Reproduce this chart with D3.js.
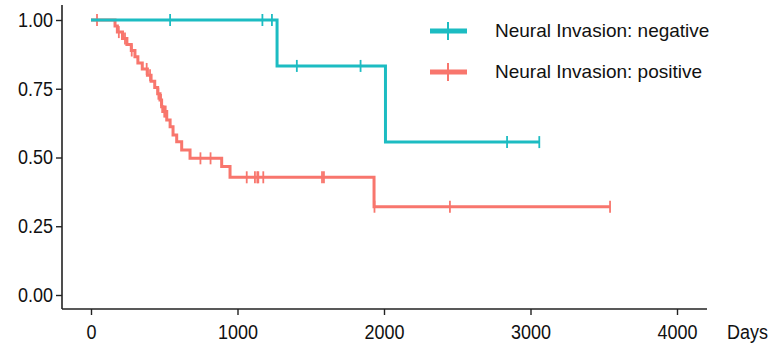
<!DOCTYPE html>
<html>
<head>
<meta charset="utf-8">
<script src="https://cdn.jsdelivr.net/npm/d3@7"></script>
<style>
    body { margin: 0; background: #fff; }
    text { font-family: "Liberation Sans", Arial, sans-serif; }
</style>
</head>
<body>
<svg id="chart" width="773" height="345"></svg>
<script>
// Kaplan-Meier curves
const groups = ["Neural Invasion: negative", "Neural Invasion: positive"]
const colors = ["#1cbcc2", "#f8766d"]

// negative group: event days and survival after each event
const negEventDays = [1270, 2010]
const negSurvival = [0.833, 0.556]
const negCensorDays = [540, 1170, 1235, 1405, 1840, 2840, 3060]
const negLastDay = 3060

// positive group
const posEventDays = [164, 180, 215, 245, 275, 300, 320, 350, 385, 410, 435, 455, 471,
    482, 490, 517, 540, 560, 585, 619, 676, 892, 949, 1932]
const posSurvival = [0.978, 0.956, 0.933, 0.911, 0.889, 0.866, 0.844, 0.822, 0.799, 0.777, 0.755, 0.732, 0.709,
    0.685, 0.667, 0.636, 0.612, 0.582, 0.557, 0.527, 0.497, 0.467, 0.428, 0.321]
const posCensorDays = [41, 190, 232, 278, 380, 403, 460, 478, 500, 510, 747, 816,
    1063, 1119, 1135, 1142, 1176, 1577, 1590, 1935, 2450, 3543]
const posLastDay = 3543

const xTicks = [0, 1000, 2000, 3000, 4000]
const yTicks = [0, 0.25, 0.5, 0.75, 1]

const svg = d3.select("#chart")

const x = d3.scaleLinear().domain([0, 4000]).range([91, 677])
const y = d3.scaleLinear().domain([0, 1]).range([295, 20])
const stretch = 1.12 // labels in the picture look a bit taller than normal

// build step path points from events
function stepPoints(days, surv, lastDay) {
    const pts = [[0, 1]]
    let s = 1
    days.forEach((d, i) => {
        pts.push([d, s])
        s = surv[i]
        pts.push([d, s])
    })
    pts.push([lastDay, s])
    return pts
}
function survAt(days, surv, t) {
    let s = 1
    days.forEach((d, i) => { if (d <= t) s = surv[i] })
    return s
}

const curves = [
    { pts: stepPoints(negEventDays, negSurvival, negLastDay), censor: negCensorDays.map(t => [t, survAt(negEventDays, negSurvival, t)]) },
    { pts: stepPoints(posEventDays, posSurvival, posLastDay), censor: posCensorDays.map(t => [t, survAt(posEventDays, posSurvival, t)]) },
]

const line = d3.line().x(d => x(d[0])).y(d => y(d[1]))

// draw positive first so negative sits on top at 1.0
;[1, 0].forEach(i => {
    const c = curves[i]
    const g = svg.append("g")
    g.append("path")
        .attr("d", line(c.pts))
        .attr("fill", "none")
        .attr("stroke", colors[i])
        .attr("stroke-width", 3)
    g.selectAll("line.cens")
        .data(c.censor)
        .enter()
        .append("line")
        .attr("class", "cens")
        .attr("x1", d => x(d[0]))
        .attr("x2", d => x(d[0]))
        .attr("y1", d => y(d[1]) - 6)
        .attr("y2", d => y(d[1]) + 6)
        .attr("stroke", colors[i])
        .attr("stroke-width", 1.8)
})

// axes
const yAxis = svg.append("g")
    .attr("transform", "translate(62,0)")
    .call(d3.axisLeft(y).tickValues(yTicks).tickFormat(d3.format(".2f")).tickSize(6).tickPadding(3))
const xAxis = svg.append("g")
    .attr("transform", "translate(0,309)")
    .call(d3.axisBottom(x).tickValues(xTicks).tickFormat(d3.format("d")).tickSize(6))

yAxis.select(".domain").attr("d", "M0,5V309")
xAxis.select(".domain").attr("d", "M62,0H707")
svg.selectAll(".domain").attr("stroke", "#222").attr("stroke-width", 1.6)
svg.selectAll(".tick line").attr("stroke", "#222").attr("stroke-width", 1.4)
svg.selectAll(".tick text").attr("font-size", 18).attr("fill", "#111")
    .attr("font-family", "Liberation Sans, Arial, sans-serif")
    .attr("transform", `scale(1,${stretch})`)
xAxis.selectAll(".tick text").attr("y", 16 / stretch)

svg.append("text")
    .attr("transform", `translate(727,339) scale(1,${stretch})`)
    .attr("font-size", 18)
    .attr("fill", "#111")
    .text("Days")

// legend
const legend = svg.append("g")
groups.forEach((name, i) => {
    const ly = 31 + i * 41
    legend.append("line")
        .attr("x1", 430).attr("x2", 467)
        .attr("y1", ly).attr("y2", ly)
        .attr("stroke", colors[i]).attr("stroke-width", 5)
    legend.append("line")
        .attr("x1", 448).attr("x2", 448)
        .attr("y1", ly - 9).attr("y2", ly + 9)
        .attr("stroke", colors[i]).attr("stroke-width", 2)
    legend.append("text")
        .attr("x", 495)
        .attr("y", ly + 6)
        .attr("font-size", 19)
        .attr("fill", "#111")
        .text(name)
})
</script>
</body>
</html>
